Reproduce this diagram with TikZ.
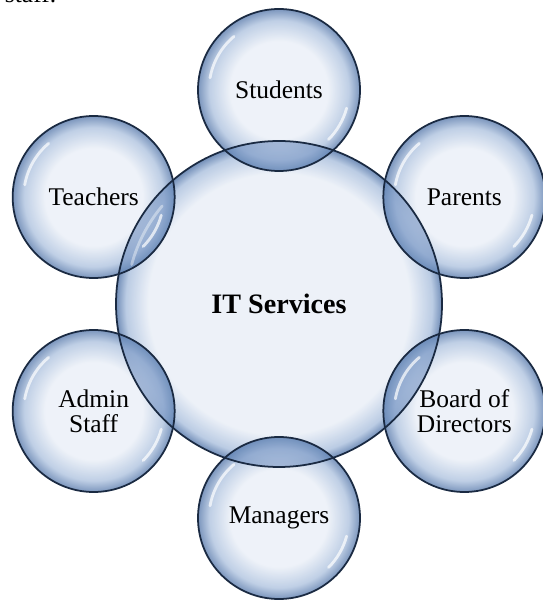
\documentclass[tikz,border=0pt]{standalone}
\usepackage{fontspec}
\setmainfont{Liberation Serif}
\usetikzlibrary{calc}

\definecolor{bubin}{HTML}{EAEFF7}
\definecolor{bubmid}{HTML}{AFC3DF}
\definecolor{bubrim}{HTML}{5A7BAC}
\definecolor{bubline}{HTML}{1A2A42}
\definecolor{lensblue}{HTML}{6F90C0}

\pgfdeclareradialshading{bubsmall}{\pgfpoint{0bp}{0bp}}{color(0bp)=(bubin); color(15bp)=(bubin); color(21.5bp)=(bubmid); color(25bp)=(bubrim); color(50bp)=(bubrim)}
\pgfdeclareradialshading{bubbig}{\pgfpoint{0bp}{0bp}}{color(0bp)=(bubin); color(20bp)=(bubin); color(23.5bp)=(bubmid); color(25bp)=(bubrim); color(50bp)=(bubrim)}

\begin{document}
\begin{tikzpicture}
        \tikzstyle{every node}=[circle, inner sep=0pt, align=center, text opacity=1, font=\fontsize{14.5}{14.2}\selectfont]
        \tikzstyle{sat}=[minimum size=3.24cm, shading=bubsmall, fill opacity=0.8]
        \tikzstyle{hub}=[minimum size=6.52cm, shading=bubbig, fill opacity=0.85, font=\fontsize{16}{16}\selectfont\bfseries]
        \tikzstyle{rim}=[bubline, line width=1pt]
        \tikzstyle{lens}=[lensblue, fill opacity=0.45]
        \tikzstyle{gloss}=[white, opacity=0.7, line width=1.6pt, line cap=round]
        \clip (0,0) rectangle (10.86,12);

            \node[anchor=base west] (cut) at (0.06,11.94) {staff.};

            \node[hub] (IT) at (5.58,5.92) {IT Services};
            \node[sat] (St) at ($(IT)+(90:4.28)$) {Students};
            \node[sat] (Pa) at ($(IT)+(30:4.28)$) {Parents};
            \node[sat] (Bo) at ($(IT)+(-30:4.28)$) {Board of\\Directors};
            \node[sat] (Ma) at ($(IT)+(-90:4.28)$) {Managers};
            \node[sat] (Ad) at ($(IT)+(-150:4.28)$) {Admin\\Staff};
            \node[sat] (Te) at ($(IT)+(150:4.28)$) {Teachers};

            % darker overlap of each bubble with the hub
            \foreach \n in {St,Pa,Bo,Ma,Ad,Te} {
                \begin{scope}
                    \clip (\n) circle (1.62);
                    \fill[lens] (IT) circle (3.26);
                \end{scope}
            }

            \foreach \n in {St,Pa,Bo,Ma,Ad,Te} {
                \draw[gloss] ($(\n)+(130:1.4)$) arc (130:170:1.4);
                \draw[gloss] ($(\n)+(-15:1.4)$) arc (-15:-45:1.4);
                \draw[rim] (\n) circle (1.62);
            }
            \draw[gloss, opacity=0.4] ($(IT)+(140:3.05)$) arc (140:165:3.05);
            \draw[rim] (IT) circle (3.26);

        \end{tikzpicture}
\end{document}
